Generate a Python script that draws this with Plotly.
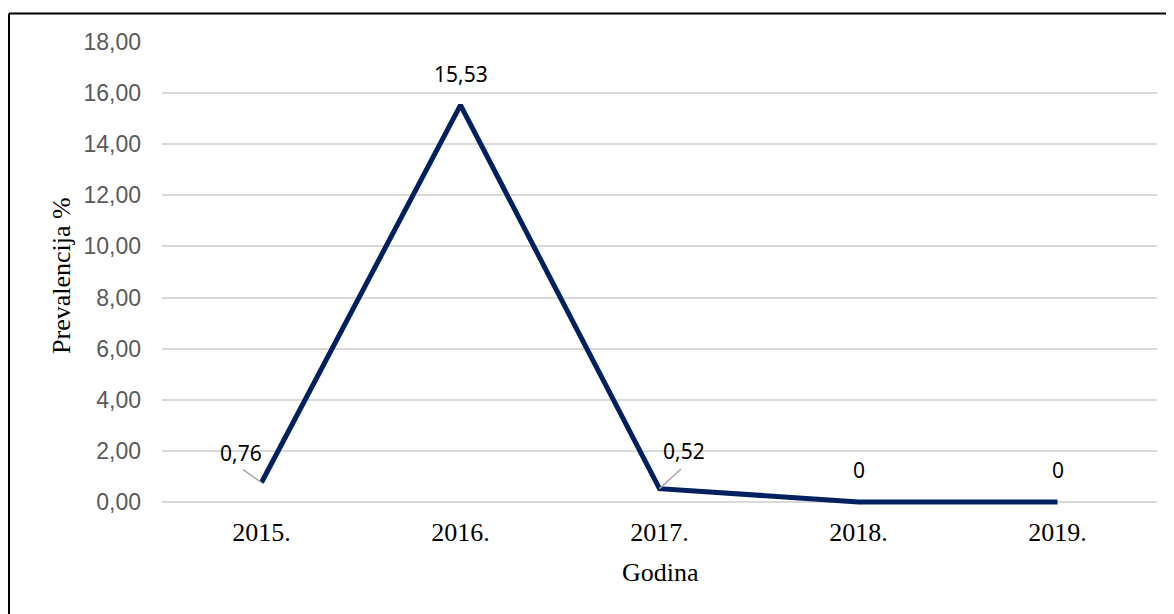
import plotly.graph_objects as go

years = ["2015.", "2016.", "2017.", "2018.", "2019."]
prevalence = [0.76, 15.53, 0.52, 0, 0]
y_ticks = [0, 2, 4, 6, 8, 10, 12, 14, 16, 18]

# label offsets in pixels (style, not data)
label_dx = [-21, 0, 24, 0, 0]
label_dy = [30, 31, 38, 32, 32]
leader = {0: (-20, -14), 2: (23, -21)}

# the page has an 8px body margin, so the figure is drawn 8px smaller
OFF = 8
W, H = 1174 - OFF, 614 - OFF
Y_MIN, Y_MAX = -0.12, 18
UNIT = 460 / 18                      # pixels per y unit
EXTRA = -Y_MIN * UNIT                # room below zero so the line is not clipped
L, R, T = 162 - OFF, 17, 42 - OFF
B = 112 - EXTRA
pw = W - L - R
ph = H - T - B
ZERO_PX = 502                        # page pixel of y = 0


def px_x(p):  # p in page pixels
    return (p - OFF - L) / pw


def px_y(p):
    return (ZERO_PX + EXTRA - p) / ph


def fmt(v):
    return "0" if v == 0 else f"{v:.2f}".replace(".", ",")


fig = go.Figure()
fig.add_trace(go.Scatter(
    x=years, y=prevalence, mode="lines",
    line=dict(color="#002060", width=5),
    hoverinfo="skip", showlegend=False,
))

annotations = []
for i, (yr, v) in enumerate(zip(years, prevalence)):
    annotations.append(dict(
        x=i, y=v, xref="x", yref="y", text=fmt(v), showarrow=False,
        xshift=label_dx[i], yshift=label_dy[i],
        font=dict(family="Noto Sans", size=21, color="#000000"),
    ))
    if i in leader:
        ax, ay = leader[i]
        annotations.append(dict(
            x=i, y=v, xref="x", yref="y", text=" ", showarrow=True,
            font=dict(size=1),
            ax=ax, ay=ay, arrowhead=0, arrowwidth=1.5, arrowcolor="#A6A6A6",
            standoff=0, startstandoff=0,
        ))

annotations.append(dict(
    x=px_x(62), y=px_y(276), xref="paper", yref="paper",
    text="Prevalencija %", textangle=-90, showarrow=False,
    xanchor="center", yanchor="middle",
    font=dict(family="Liberation Serif", size=26, color="#000000"),
))
annotations.append(dict(
    x=px_x(660), y=px_y(573), xref="paper", yref="paper",
    text="Godina", showarrow=False, xanchor="center", yanchor="middle",
    font=dict(family="Liberation Serif", size=26, color="#000000"),
))

bx = px_x(9)
by = px_y(13.5)
shapes = [
    dict(type="line", xref="paper", yref="paper", x0=bx, x1=bx, y0=-0.4, y1=by,
         line=dict(color="#000000", width=2)),
    dict(type="line", xref="paper", yref="paper", x0=bx, x1=1.1, y0=by, y1=by,
         line=dict(color="#000000", width=2)),
]

fig.update_layout(
    width=W, height=H,
    margin=dict(l=L, r=R, t=T, b=B, pad=0),
    paper_bgcolor="#FFFFFF", plot_bgcolor="#FFFFFF",
    separators=", ",
    annotations=annotations,
    shapes=shapes,
    xaxis=dict(
        type="category", range=[-0.5, 4.5], showgrid=False,
        showline=False, zeroline=False, ticks="",
        tickfont=dict(family="Liberation Serif", size=26, color="#000000"),
        ticklabelstandoff=9,
    ),
    yaxis=dict(
        range=[Y_MIN, Y_MAX], tickvals=y_ticks, tickformat=".2f",
        showgrid=True, gridcolor="#D9D9D9", gridwidth=1.5,
        zeroline=True, zerolinecolor="#D9D9D9", zerolinewidth=1.5,
        showline=False, ticks="",
        tickfont=dict(family="Liberation Sans", size=23, color="#595959"),
        ticklabelstandoff=20,
    ),
)

fig.write_html("out.html")
